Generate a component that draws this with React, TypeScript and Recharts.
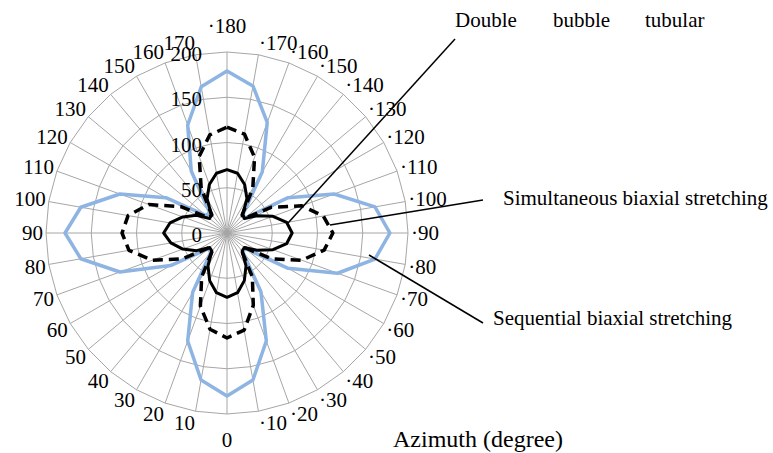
import { PolarAngleAxis, PolarGrid, PolarRadiusAxis, Radar, RadarChart } from 'recharts';

// azimuth categories, clockwise from the top spoke
const azimuths = [
  '·180', '·170', '·160', '·150', '·140', '·130', '·120', '·110', '·100',
  '·90', '·80', '·70', '·60', '·50', '·40', '·30', '·20', '·10',
  '0', '10', '20', '30', '40', '50', '60', '70', '80',
  '90', '100', '110', '120', '130', '140', '150', '160', '170',
];

const sequential = [
  179, 165, 130, 78, 28, 25, 78, 126, 166,
  180, 166, 130, 78, 27, 27, 75, 127, 165,
  180, 165, 127, 76, 28, 27, 72, 126, 164,
  179, 164, 126, 78, 30, 30, 79, 127, 164,
];

const simultaneous = [
  117, 111, 89, 57, 26, 25, 57, 88, 108,
  117, 109, 88, 57, 25, 25, 56, 85, 109,
  116, 108, 86, 56, 25, 25, 57, 88, 110,
  116, 111, 92, 58, 26, 26, 57, 90, 110,
];

const doubleBubble = [
  70, 67, 57, 44, 27, 25, 38, 54, 67,
  72, 67, 54, 38, 25, 26, 42, 56, 67,
  71, 67, 56, 42, 26, 25, 39, 52, 63,
  70, 64, 52, 39, 25, 27, 44, 57, 67,
];

const radiusTicks = [0, 50, 100, 150, 200];

const data = azimuths.map((azimuth, i) => ({
  azimuth,
  sequential: sequential[i],
  simultaneous: simultaneous[i],
  doubleBubble: doubleBubble[i],
}));

const W = 773;
const H = 453;
const CX = 227;
const CY = 233;
const FONT = '"Liberation Serif", "Times New Roman", serif';
const textStyle = { fontFamily: FONT, fontSize: 21 };

const AngleTick = ({ payload }: any) => {
  const i = azimuths.indexOf(payload.value);
  const rad = (i * 10 * Math.PI) / 180;
  const s = Math.sin(rad);
  const c = Math.cos(rad);
  if (Math.abs(s) < 0.05) {
    return (
      <text x={CX} y={CY - 207 * c} textAnchor="middle" dominantBaseline="central" style={textStyle} fill="#000">
        {payload.value}
      </text>
    );
  }
  return (
    <text
      x={CX + 184 * s}
      y={CY - 193 * c}
      textAnchor={s > 0 ? 'start' : 'end'}
      dominantBaseline="central"
      style={textStyle}
      fill="#000"
    >
      {payload.value}
    </text>
  );
};

const RadiusTick = ({ x, y, payload }: any) => (
  <text x={x - 25} y={y + 2} textAnchor="end" dominantBaseline="central" style={textStyle} fill="#000">
    {payload.value}
  </text>
);

export default function App() {
  return (
    <div style={{ position: 'absolute', left: 0, top: 0, width: W, height: H, background: '#fff', fontFamily: FONT }}>
      <RadarChart
        width={W}
        height={H}
        data={data}
        cx={CX}
        cy={CY}
        outerRadius={181}
        startAngle={90}
        endAngle={-270}
        margin={{ top: 0, right: 0, bottom: 0, left: 0 }}
        style={{ fontFamily: FONT }}
      >
        <PolarGrid stroke="#a6a6a6" strokeWidth={1} gridType="polygon" />
        <PolarAngleAxis dataKey="azimuth" tick={AngleTick} tickLine={false} axisLine={false} />
        <PolarRadiusAxis
          angle={90}
          domain={[0, 200]}
          tickCount={5}
          ticks={radiusTicks as any}
          tick={RadiusTick}
          axisLine={false}
          tickLine={false}
        />
        <Radar
          dataKey="sequential"
          stroke="#8db4e2"
          strokeWidth={3.5}
          strokeLinejoin="round"
          fill="none"
          fillOpacity={0}
          dot={false}
          isAnimationActive={false}
        />
        <Radar
          dataKey="simultaneous"
          stroke="#000"
          strokeWidth={3.5}
          strokeDasharray="10 6"
          strokeLinejoin="round"
          fill="none"
          fillOpacity={0}
          dot={false}
          isAnimationActive={false}
        />
        <Radar
          dataKey="doubleBubble"
          stroke="#000"
          strokeWidth={3}
          strokeLinejoin="round"
          fill="none"
          fillOpacity={0}
          dot={false}
          isAnimationActive={false}
        />
      </RadarChart>

      {/* callouts */}
      <svg width={W} height={H} style={{ position: 'absolute', left: 0, top: 0, pointerEvents: 'none' }}>
        <g stroke="#000" strokeWidth={1.5}>
          <line x1={455} y1={39} x2={288} y2={223} />
          <line x1={483} y1={200} x2={330} y2={225} />
          <line x1={483} y1={323} x2={369} y2={255} />
        </g>
        <g style={textStyle} fill="#000">
          <text y={27}>
            <tspan x={455}>Double</tspan>
            <tspan x={553}>bubble</tspan>
            <tspan x={645}>tubular</tspan>
          </text>
          <text x={503} y={205}>Simultaneous biaxial stretching</text>
          <text x={493} y={325}>Sequential biaxial stretching</text>
        </g>
        <text x={393} y={447} style={{ fontFamily: FONT, fontSize: 24 }} fill="#000">
          Azimuth (degree)
        </text>
      </svg>
    </div>
  );
}
